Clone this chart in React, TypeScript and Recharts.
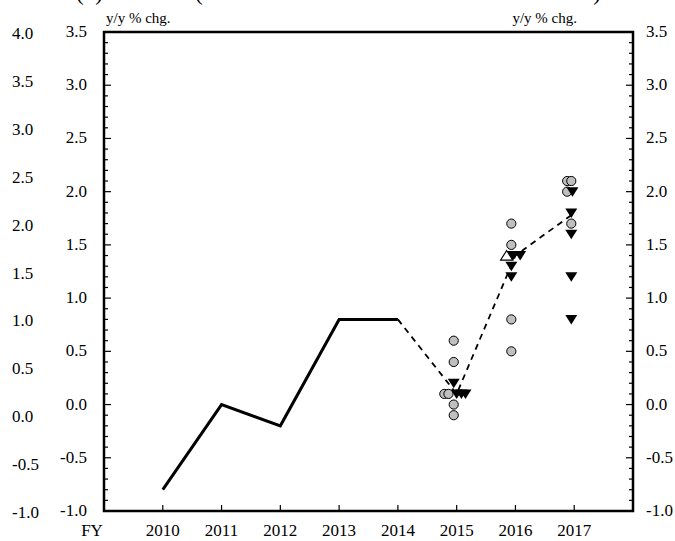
import React from 'react';
import { ComposedChart, Line, Scatter, XAxis, YAxis, ReferenceArea } from 'recharts';

// fiscal years on the x axis ("FY" sits on the left edge)
const xTicks = [2009, 2010, 2011, 2012, 2013, 2014, 2015, 2016, 2017];
const xTickLabels = ['FY', '2010', '2011', '2012', '2013', '2014', '2015', '2016', '2017'];

// y tick labels
const innerTicks = [-1.0, -0.5, 0.0, 0.5, 1.0, 1.5, 2.0, 2.5, 3.0, 3.5];
const outerTicks = [-1.0, -0.5, 0.0, 0.5, 1.0, 1.5, 2.0, 2.5, 3.0, 3.5, 4.0];

// actual (solid line)
const actualYears = [2010, 2011, 2012, 2013, 2014];
const actualValues = [-0.8, 0.0, -0.2, 0.8, 0.8];

// median of forecasts (dashed line)
const medianYears = [2014, 2015, 2016, 2017];
const medianValues = [0.8, 0.1, 1.4, 1.8];

// members' forecasts, risks balanced (grey circles); shift = small sideways nudge in years
const balancedYears = [2015, 2015, 2015, 2015, 2015, 2015, 2016, 2016, 2016, 2016, 2017, 2017, 2017, 2017];
const balancedValues = [0.6, 0.4, 0.1, 0.1, 0.0, -0.1, 1.7, 1.5, 0.8, 0.5, 2.1, 2.1, 2.0, 1.7];
const balancedShift = [-0.05, -0.05, -0.21, -0.14, -0.05, -0.05, -0.07, -0.07, -0.07, -0.07, -0.12, -0.05, -0.12, -0.05];

// members' forecasts, downside risks (filled down triangles)
const downsideYears = [2015, 2015, 2015, 2015, 2016, 2016, 2016, 2016, 2017, 2017, 2017, 2017, 2017];
const downsideValues = [0.2, 0.1, 0.1, 0.1, 1.4, 1.4, 1.3, 1.2, 2.0, 1.8, 1.6, 1.2, 0.8];
const downsideShift = [-0.05, 0.0, 0.08, 0.15, -0.04, 0.08, -0.07, -0.07, -0.03, -0.05, -0.05, -0.05, -0.05];

// members' forecasts, upside risks (open up triangles)
const upsideYears = [2016];
const upsideValues = [1.4];
const upsideShift = [-0.15];

const W = 675;
const H = 541;
const PLOT_LEFT = 104;
const PLOT_RIGHT = 633;
const PLOT_BOTTOM = 511;
const FONT = '"Liberation Serif", "Times New Roman", serif';

const toPoints = (years: number[], values: number[], shift?: number[]) =>
  years.map((y, i) => ({ year: y + (shift ? shift[i] : 0), value: values[i] }));

const actualData = toPoints(actualYears, actualValues);
const medianData = toPoints(medianYears, medianValues);
const balancedData = toPoints(balancedYears, balancedValues, balancedShift);
const downsideData = toPoints(downsideYears, downsideValues, downsideShift);
const upsideData = toPoints(upsideYears, upsideValues, upsideShift);

// every 0.1 for the small inner tick marks
const minorTicks = (lo: number, hi: number) => {
  const out: number[] = [];
  for (let i = Math.round(lo * 10); i <= Math.round(hi * 10); i++) out.push(i / 10);
  return out;
};

const isMajor = (v: number) => Math.abs(v * 2 - Math.round(v * 2)) < 1e-6;

const InnerTick = (props: any) => {
  const { y, payload } = props;
  const v = payload.value;
  const major = isMajor(v);
  return (
    <g>
      <line x1={PLOT_LEFT} x2={PLOT_LEFT + (major ? 7 : 4)} y1={y} y2={y} stroke="#000" strokeWidth={1.2} />
      {major && innerTicks.includes(v) && (
        <text x={87} y={y} dy={5} textAnchor="end" fontFamily={FONT} fontSize={17} fill="#000">
          {v.toFixed(1)}
        </text>
      )}
    </g>
  );
};

const RightTick = (props: any) => {
  const { y, payload } = props;
  const v = payload.value;
  const major = isMajor(v);
  return (
    <g>
      <line x1={PLOT_RIGHT} x2={PLOT_RIGHT - (major ? 7 : 4)} y1={y} y2={y} stroke="#000" strokeWidth={1.2} />
      {major && innerTicks.includes(v) && (
        <text x={646} y={y} dy={5} textAnchor="start" fontFamily={FONT} fontSize={17} fill="#000">
          {v.toFixed(1)}
        </text>
      )}
    </g>
  );
};

const OuterTick = (props: any) => {
  const { y, payload } = props;
  return (
    <text x={12} y={y} dy={7} textAnchor="start" fontFamily={FONT} fontSize={17} fill="#000">
      {payload.value.toFixed(1)}
    </text>
  );
};

const YearTick = (props: any) => {
  const { x, payload } = props;
  const i = xTicks.indexOf(payload.value);
  const first = i === 0;
  return (
    <g>
      {!first && <line x1={x} x2={x} y1={PLOT_BOTTOM} y2={PLOT_BOTTOM - 6} stroke="#000" strokeWidth={1.2} />}
      <text x={first ? x - 12 : x} y={PLOT_BOTTOM + 25} textAnchor="middle" fontFamily={FONT} fontSize={17} fill="#000">
        {xTickLabels[i]}
      </text>
    </g>
  );
};

const Circle = (props: any) => (
  <circle cx={props.cx} cy={props.cy} r={4.6} fill="#bfbfbf" stroke="#000" strokeWidth={1} />
);

const DownTriangle = (props: any) => {
  const { cx, cy } = props;
  return <path d={`M${cx - 6},${cy - 4.5}L${cx + 6},${cy - 4.5}L${cx},${cy + 5}Z`} fill="#000" />;
};

const UpTriangle = (props: any) => {
  const { cx, cy } = props;
  return <path d={`M${cx - 6},${cy + 4.5}L${cx + 6},${cy + 4.5}L${cx},${cy - 5}Z`} fill="#fff" stroke="#000" strokeWidth={1.2} />;
};

export default function App() {
  return (
    <div style={{ position: 'absolute', left: 0, top: 0, width: W, height: H, background: '#fff', overflow: 'hidden' }}>
      <ComposedChart width={W} height={H} margin={{ top: 32, right: 0, bottom: 0, left: 0 }}>
        <XAxis
          type="number"
          dataKey="year"
          domain={[2009, 2018]}
          ticks={xTicks}
          interval={0}
          allowDataOverflow
          height={30}
          axisLine={false}
          tickLine={false}
          tick={<YearTick />}
        />
        <YAxis
          yAxisId="inner"
          type="number"
          domain={[-1, 3.5]}
          ticks={minorTicks(-1, 3.5)}
          interval={0}
          allowDataOverflow
          width={54}
          axisLine={false}
          tickLine={false}
          tick={<InnerTick />}
        />
        <YAxis
          yAxisId="outer"
          type="number"
          domain={[-1, 4]}
          ticks={outerTicks}
          interval={0}
          allowDataOverflow
          width={50}
          axisLine={false}
          tickLine={false}
          tick={<OuterTick />}
        />
        <YAxis
          yAxisId="right"
          orientation="right"
          type="number"
          domain={[-1, 3.5]}
          ticks={minorTicks(-1, 3.5)}
          interval={0}
          allowDataOverflow
          width={42}
          axisLine={false}
          tickLine={false}
          tick={<RightTick />}
        />
        <ReferenceArea yAxisId="inner" x1={2009} x2={2018} y1={-1} y2={3.5} fill="none" stroke="#000" strokeWidth={2.5} />
        <Line
          yAxisId="inner"
          data={actualData}
          dataKey="value"
          type="linear"
          stroke="#000"
          strokeWidth={3}
          dot={false}
          isAnimationActive={false}
        />
        <Line
          yAxisId="inner"
          data={medianData}
          dataKey="value"
          type="linear"
          stroke="#000"
          strokeWidth={1.8}
          strokeDasharray="6 5"
          dot={false}
          isAnimationActive={false}
        />
        <Scatter yAxisId="inner" data={balancedData} dataKey="value" shape={Circle} isAnimationActive={false} />
        <Scatter yAxisId="inner" data={upsideData} dataKey="value" shape={UpTriangle} isAnimationActive={false} />
        <Scatter yAxisId="inner" data={downsideData} dataKey="value" shape={DownTriangle} isAnimationActive={false} />
      </ComposedChart>
      <svg width={W} height={H} style={{ position: 'absolute', left: 0, top: 0, pointerEvents: 'none' }}>
        {/* title sits mostly above the crop: only the tails of its brackets show */}
        <text y={-0.5} fontFamily={FONT} fontSize={23} fill="#000">
          <tspan x={76}>(2) Core CPI</tspan>
          <tspan x={195} textLength={406} lengthAdjust="spacing">(All Items Less Fresh Food Excl. Tax Hikes)</tspan>
        </text>
        <text x={106} y={23} fontFamily={FONT} fontSize={15} fill="#000">y/y % chg.</text>
        <text x={577} y={23} textAnchor="end" fontFamily={FONT} fontSize={15} fill="#000">y/y % chg.</text>
      </svg>
    </div>
  );
}
